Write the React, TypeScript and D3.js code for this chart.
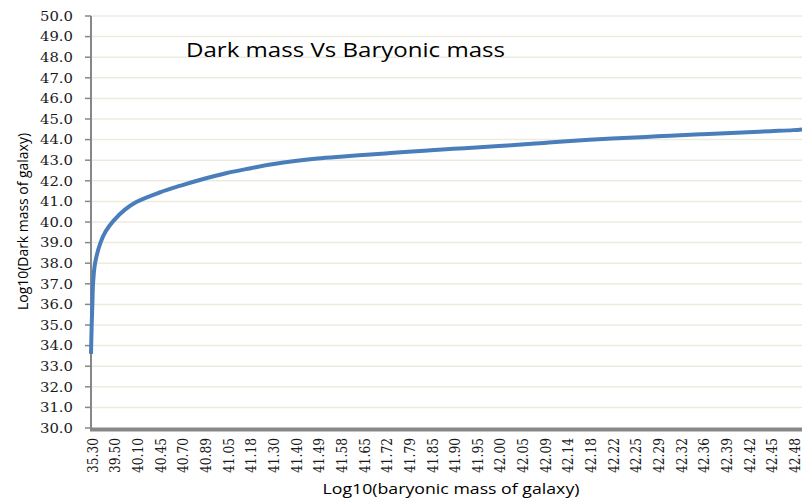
import React from "react";
import * as d3 from "d3";

const xLabels = [
  "35.30", "39.50", "40.10", "40.45", "40.70", "40.89", "41.05", "41.18",
  "41.30", "41.40", "41.49", "41.58", "41.65", "41.72", "41.79", "41.85",
  "41.90", "41.95", "42.00", "42.05", "42.09", "42.14", "42.18", "42.22",
  "42.25", "42.29", "42.32", "42.36", "42.39", "42.42", "42.45", "42.48",
];

// dark mass read at each labelled category
const labelValues = [
  33.6, 40.07, 40.97, 41.42, 41.78, 42.1, 42.38, 42.6,
  42.8, 42.96, 43.08, 43.17, 43.25, 43.33, 43.41, 43.48,
  43.55, 43.62, 43.69, 43.76, 43.84, 43.92, 43.99, 44.05,
  44.1, 44.16, 44.21, 44.26, 44.31, 44.36, 44.41, 44.46,
];

// extra readings between labelled categories (fractional category index)
const extraIndex = [0.03, 0.06, 0.09, 0.18, 0.42, 0.65, 1.5, 31.45];
const extraValues = [35, 36, 37, 38, 39, 39.55, 40.6, 44.5];

const yTicks = d3.range(30, 51, 1);

const W = 802;
const H = 499;

export default function App() {
  const x = d3.scaleLinear().domain([0, 31]).range([91, 793.2]);
  const y = d3.scaleLinear().domain([30, 50]).range([428, 16]);

  const pts: [number, number][] = [
    ...labelValues.map((v, i) => [i, v] as [number, number]),
    ...extraIndex.map((k, i) => [k, extraValues[i]] as [number, number]),
  ].sort((a, b) => a[0] - b[0]);

  const line = d3
    .line<[number, number]>()
    .x((d) => x(d[0]))
    .y((d) => y(d[1]))
    .curve(d3.curveCatmullRom.alpha(0.5));

  const fmt = d3.format(".1f");
  const axisColor = "#878787";

  return (
    <div style={{ position: "absolute", left: 0, top: 0 }}>
      <svg width={W} height={H} style={{ display: "block", background: "#fff" }}>
        {yTicks.slice(1).map((t) => (
          <line key={"g" + t} x1={x(0)} x2={W} y1={y(t)} y2={y(t)} stroke="#EDEADF" strokeWidth={1.5} />
        ))}
        {yTicks.map((t) => (
          <line key={"t" + t} x1={x(0) - 6} x2={x(0)} y1={y(t)} y2={y(t)} stroke={axisColor} strokeWidth={1.5} />
        ))}
        <line x1={x(0)} x2={x(0)} y1={y(50)} y2={y(30)} stroke={axisColor} strokeWidth={2} />
        <line x1={x(0) - 1} x2={W} y1={y(30) + 1.5} y2={y(30) + 1.5} stroke={axisColor} strokeWidth={4} />
        {yTicks.map((t) => (
          <text
            key={"l" + t}
            x={73}
            y={y(t)}
            dy="0.36em"
            textAnchor="end"
            fontFamily="DejaVu Serif"
            fontSize={13.5}
            fill="#1a1a1a"
            textLength={33}
            lengthAdjust="spacingAndGlyphs"
          >
            {fmt(t)}
          </text>
        ))}
        {xLabels.map((lab, i) => (
          <text
            key={"x" + i}
            transform={`translate(${x(i) + 1.5},438) rotate(-90)`}
            dy="0.36em"
            textAnchor="end"
            fontFamily="DejaVu Serif"
            fontSize={14.5}
            fill="#1a1a1a"
            textLength={35}
            lengthAdjust="spacingAndGlyphs"
          >
            {lab}
          </text>
        ))}
        <path d={line(pts) ?? ""} fill="none" stroke="#4A7EBB" strokeWidth={4} strokeLinejoin="round" strokeLinecap="butt" />
        <text
          x={186}
          y={56.5}
          fontFamily="Open Sans"
          fontSize={20}
          fill="#000"
          textLength={319}
          lengthAdjust="spacingAndGlyphs"
        >
          Dark mass Vs Baryonic mass
        </text>
        <text
          x={451}
          y={494}
          textAnchor="middle"
          fontFamily="Open Sans"
          fontSize={15}
          fill="#000"
          textLength={257}
          lengthAdjust="spacingAndGlyphs"
        >
          Log10(baryonic mass of galaxy)
        </text>
        <text
          transform="translate(28,221.5) rotate(-90)"
          textAnchor="middle"
          fontFamily="Open Sans"
          fontSize={14.5}
          fill="#000"
          textLength={177}
          lengthAdjust="spacingAndGlyphs"
        >
          Log10(Dark mass of galaxy)
        </text>
      </svg>
    </div>
  );
}
